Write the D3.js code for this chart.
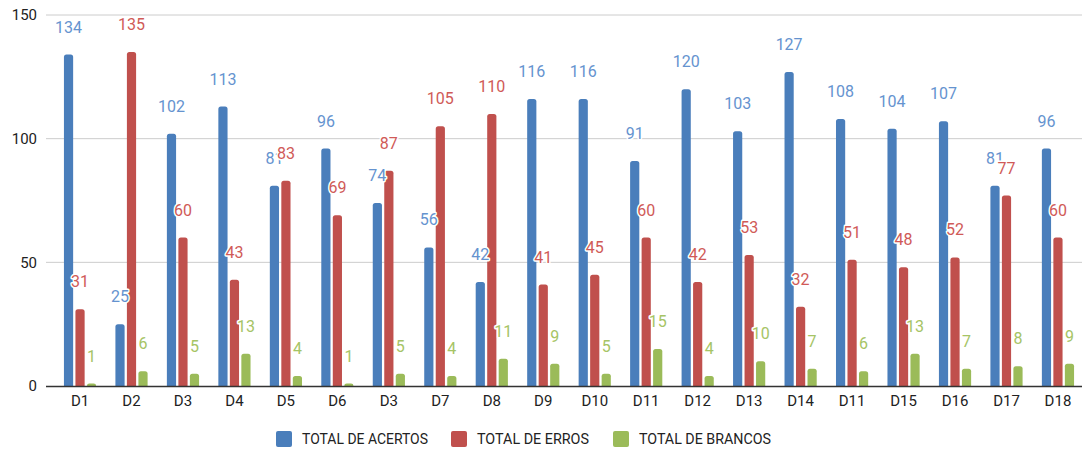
<!DOCTYPE html>
<html>
<head>
<meta charset="utf-8">
<script src="https://cdn.jsdelivr.net/npm/d3@7"></script>
<style>
  html, body { margin: 0; padding: 0; background: #fff; }
  svg { display: block; font-family: Roboto, "Noto Sans", sans-serif; }
</style>
</head>
<body>
<svg id="chart" width="1092" height="451"></svg>
<script>
// Categories (some disciplines appear twice)
const categories = ["D1","D2","D3","D4","D5","D6","D3","D7","D8","D9","D10","D11","D12","D13","D14","D11","D15","D16","D17","D18"];
const acertos = [134,25,102,113,81,96,74,56,42,116,116,91,120,103,127,108,104,107,81,96];
const erros   = [31,135,60,43,83,69,87,105,110,41,45,60,42,53,32,51,48,52,77,60];
const brancos = [1,6,5,13,4,1,5,4,11,9,5,15,4,10,7,6,13,7,8,9];
const seriesNames = ["TOTAL DE ACERTOS","TOTAL DE ERROS","TOTAL DE BRANCOS"];
const seriesColors = ["#4a7ebb","#c0504d","#9bbb59"];
const labelColors  = ["#6593cf","#d05a57","#a6c465"];
const yTicks = [0,50,100,150];

const series = [acertos, erros, brancos];

const svg = d3.select("#chart");
const plot = { left: 46, right: 1082, top: 15, bottom: 386 };

const y = d3.scaleLinear().domain([0,150]).range([plot.bottom, plot.top]);

const idx = categories.map((_, i) => i);
const x0 = d3.scaleBand().domain(idx).range([54.3, 1083.7])
  .paddingInner(0.33).paddingOuter(0.165);
const x1 = d3.scaleBand().domain([0,1,2]).range([0, x0.bandwidth()])
  .paddingInner(0.2).paddingOuter(0.1);

// Gridlines
svg.append("g").selectAll("line").data(yTicks.filter(t => t > 0)).join("line")
  .attr("x1", plot.left).attr("x2", plot.right)
  .attr("y1", d => y(d)).attr("y2", d => y(d))
  .attr("stroke", "#cccccc").attr("stroke-width", 1);

// Y tick labels
svg.append("g").selectAll("text").data(yTicks).join("text")
  .attr("x", 37).attr("y", d => y(d)).attr("dy", "0.36em")
  .attr("text-anchor", "end").attr("font-size", 15).attr("fill", "#222")
  .text(d => d);

// Bars with rounded tops
function barPath(xl, w, top, bottom, r) {
  r = Math.min(r, w / 2, bottom - top);
  return `M${xl},${bottom}V${top + r}Q${xl},${top} ${xl + r},${top}` +
         `H${xl + w - r}Q${xl + w},${top} ${xl + w},${top + r}V${bottom}Z`;
}

const groups = svg.append("g").selectAll("g").data(idx).join("g")
  .attr("transform", i => `translate(${x0(i)},0)`);

groups.selectAll("path").data(i => series.map((s, k) => ({ k, v: s[i] }))).join("path")
  .attr("d", d => barPath(x1(d.k), x1.bandwidth(), y(d.v), y(0), 2.5))
  .attr("fill", d => seriesColors[d.k]);

// X axis baseline
svg.append("line")
  .attr("x1", plot.left).attr("x2", plot.right)
  .attr("y1", y(0) + 0.5).attr("y2", y(0) + 0.5)
  .attr("stroke", "#333").attr("stroke-width", 1.5);

// X axis labels
const xAxis = d3.axisBottom(x0).tickSize(0).tickPadding(0)
  .tickFormat(i => categories[i]);
const gx = svg.append("g").attr("transform", `translate(0,${y(0)})`).call(xAxis);
gx.select(".domain").remove();
gx.selectAll("text").attr("font-size", 15).attr("fill", "#222")
  .attr("font-family", "Roboto, sans-serif").attr("dy", "1.3em");

// Value labels, drawn series by series so later series sit on top
const labelLayer = svg.append("g");
series.forEach((s, k) => {
  labelLayer.append("g").selectAll("text").data(idx).join("text")
    .attr("x", i => x0(i) + x1(k) + x1.bandwidth() / 2)
    .attr("y", i => y(s[i]) - 22)
    .attr("text-anchor", "middle")
    .attr("font-size", 16)
    .attr("fill", labelColors[k])
    .attr("stroke", "#fff").attr("stroke-width", 3)
    .attr("stroke-linejoin", "round")
    .attr("paint-order", "stroke")
    .text(i => s[i]);
});

// Legend
const legendX = [276, 451, 613];
const legendW = [126, 112, 132];
const legend = svg.append("g").selectAll("g").data(seriesNames).join("g")
  .attr("transform", (d, k) => `translate(${legendX[k]},431)`);
legend.append("rect").attr("width", 16).attr("height", 16).attr("rx", 2)
  .attr("fill", (d, k) => seriesColors[k]);
legend.append("text").attr("x", 26).attr("y", 8).attr("dy", "0.36em")
  .attr("font-size", 15).attr("fill", "#222")
  .attr("textLength", (d, k) => legendW[k])
  .attr("lengthAdjust", "spacingAndGlyphs")
  .text(d => d);
</script>
</body>
</html>
